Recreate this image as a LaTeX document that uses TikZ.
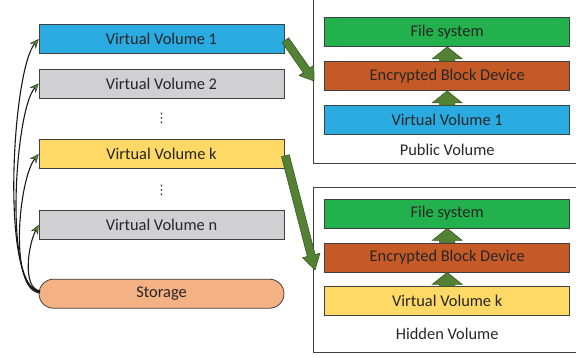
\documentclass[tikz,border=0pt]{standalone}
\usepackage{fontspec}
\setmainfont{Carlito}
\newfontfamily\symfont{DejaVu Sans}
\usetikzlibrary{arrows.meta,calc,shapes.misc}
\definecolor{vblue}{HTML}{29ABE2}
\definecolor{vgray}{HTML}{D0D0D3}
\definecolor{vyellow}{HTML}{FFD966}
\definecolor{vstorage}{HTML}{F4B183}
\definecolor{vfs}{HTML}{22B14C}
\definecolor{vebd}{HTML}{C55A26}
\definecolor{agreen}{HTML}{548235}
\definecolor{adark}{HTML}{3A5A24}
\definecolor{txt}{HTML}{262626}
\definecolor{edge}{HTML}{404040}
\tikzset{
  box/.style={draw=edge, line width=0.8pt, minimum width=245pt, minimum height=29pt,
    inner sep=0pt, text=txt, font=\fontsize{16.4}{19}\selectfont},
  frame/.style={draw=edge, line width=0.8pt, inner sep=0pt},
  conn/.style={draw=black!90, line width=1.1pt,
    -{Stealth[length=9pt,width=8pt,inset=3pt,fill=agreen,line width=0.3pt]}},
  vlabel/.style={text=txt, font=\fontsize{16.4}{19}\selectfont, inner sep=0pt},
  dotsl/.style={text=txt, font=\symfont\fontsize{13}{15}\selectfont, inner sep=0pt},
  barrow/.style={fill=agreen, draw=adark, line width=0.6pt, line join=miter},
}
% #1 from, #2 to, #3 half shaft, #4 half head, #5 head length
\newcommand\blockarrow[5]{%
  \path coordinate (hb) at ($(#2)!#5!(#1)$);
  \path[barrow] ($(#1)!#3!90:(#2)$) -- ($(hb)!#3!90:(#2)$) -- ($(hb)!#4!90:(#2)$)
    -- (#2) -- ($(hb)!#4!-90:(#2)$) -- ($(hb)!#3!-90:(#2)$) -- ($(#1)!#3!-90:(#2)$) -- cycle;
}
\begin{document}
\begin{tikzpicture}[x=1pt,y=-1pt]
\useasboundingbox (0,0) rectangle (576,358);
% left column
\node[box, fill=vblue]   (vv1) at (161.5,39.2)  {Virtual Volume 1};
\node[box, fill=vgray]   (vv2) at (161.5,83.5)  {Virtual Volume 2};
\node[dotsl]             (d1)  at (161.5,118)   {⋮};
\node[box, fill=vyellow] (vvk) at (161.5,154.2) {Virtual Volume k};
\node[dotsl]             (d2)  at (161.5,190)   {⋮};
\node[box, fill=vgray]   (vvn) at (161.5,225)   {Virtual Volume n};
\node[box, fill=vstorage, rounded rectangle] (st) at (161.5,293.7) {Storage};
% frames
\node[frame, minimum width=276.7pt, minimum height=183.3pt] (pub) at (451.65,71.65) {};
\node[frame, minimum width=276.7pt, minimum height=165.4pt] (hid) at (451.65,270) {};
% public volume stack
\node[box, fill=vfs]   (fs1)  at (447.2,32)    {File system};
\node[box, fill=vebd]  (ebd1) at (447.2,76)    {Encrypted Block Device};
\node[box, fill=vblue] (pv1)  at (447.2,120.2) {Virtual Volume 1};
\node[vlabel] (publ) at (447.2,150) {Public Volume};
% hidden volume stack
\node[box, fill=vfs]     (fs2)  at (447.2,213.5) {File system};
\node[box, fill=vebd]    (ebd2) at (447.2,257.5) {Encrypted Block Device};
\node[box, fill=vyellow] (hvk)  at (447.2,301.3) {Virtual Volume k};
\node[vlabel] (hidl) at (447.2,333.5) {Hidden Volume};
% small up arrows
\blockarrow{ebd1.north}{fs1.south}{7.5pt}{15pt}{12pt}
\blockarrow{pv1.north}{ebd1.south}{7.5pt}{15pt}{12pt}
\blockarrow{ebd2.north}{fs2.south}{7.5pt}{15pt}{12pt}
\blockarrow{hvk.north}{ebd2.south}{7.5pt}{15pt}{12pt}
% big arrows
\coordinate (t1) at ($(vv1.east)+(1,1)$);
\coordinate (p1) at (314,81);
\coordinate (t2) at ($(vvk.east)+(1,1.5)$);
\coordinate (p2) at (315,270);
\blockarrow{t1}{p1}{4pt}{9pt}{13pt}
\blockarrow{t2}{p2}{4pt}{9pt}{15pt}
% storage connectors
\coordinate (s1) at (40,291);
\coordinate (s2) at (40,292);
\coordinate (s3) at (40,293);
\coordinate (s4) at (40,291);
\draw[conn] (s1) .. controls (0,290) and (12,70) .. (vv1.west);
\draw[conn] (s2) .. controls (3,290) and (15,110) .. (vv2.west);
\draw[conn] (s3) .. controls (8,290) and (19,178) .. (vvk.west);
\draw[conn] (s4) .. controls (22,288) and (28,245) .. (vvn.west);
\end{tikzpicture}
\end{document}
